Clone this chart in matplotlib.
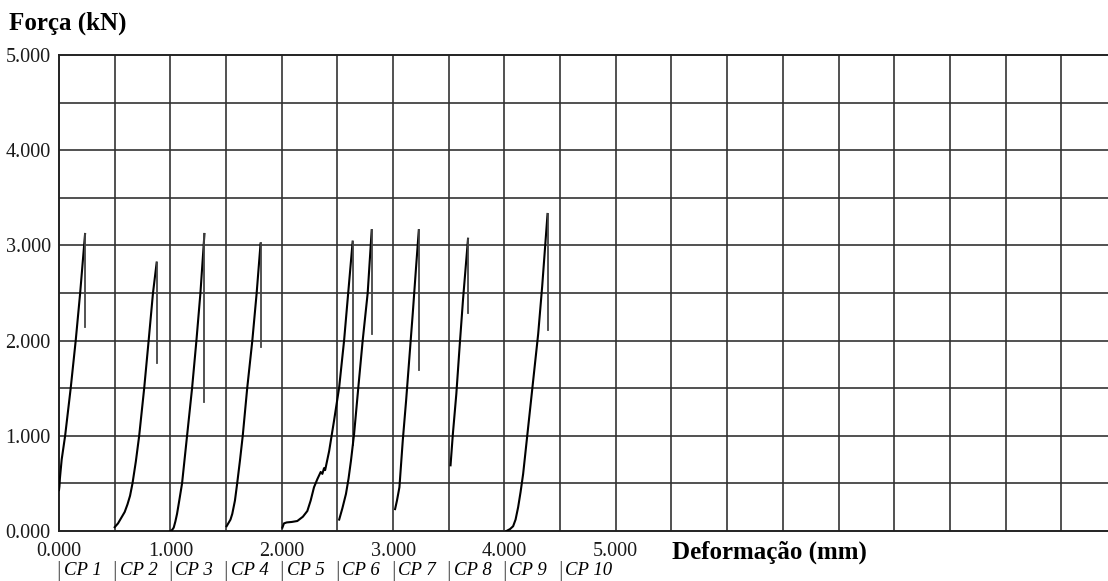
import matplotlib
matplotlib.use("Agg")
import matplotlib.pyplot as plt
import numpy as np

# ---- data (x in mm, y in kN) ----
cp1_x = [0.0, 0.004, 0.008, 0.024, 0.055, 0.105, 0.15, 0.19, 0.234, 0.234]
cp1_y = [0.43, 0.47, 0.55, 0.75, 1.0, 1.5, 2.0, 2.5, 3.12, 2.14]
cp2_x = [0.5, 0.53, 0.56, 0.59, 0.615, 0.638, 0.66, 0.69, 0.72, 0.765, 0.805, 0.844, 0.877, 0.877]
cp2_y = [0.04, 0.08, 0.14, 0.2, 0.28, 0.37, 0.5, 0.73, 1.0, 1.5, 2.0, 2.5, 2.82, 1.76]
cp3_x = [1.0, 1.015, 1.03, 1.045, 1.06, 1.08, 1.105, 1.15, 1.195, 1.234, 1.27, 1.306, 1.306]
cp3_y = [0.0, 0.01, 0.035, 0.1, 0.18, 0.32, 0.5, 1.0, 1.5, 2.0, 2.5, 3.12, 1.35]
cp4_x = [1.505, 1.52, 1.54, 1.556, 1.58, 1.60, 1.625, 1.65, 1.69, 1.736, 1.775, 1.81, 1.81]
cp4_y = [0.05, 0.08, 0.12, 0.18, 0.32, 0.5, 0.74, 1.0, 1.5, 2.0, 2.5, 3.02, 1.93]
cp5_x = [2.006, 2.02, 2.045, 2.09, 2.14, 2.19, 2.23, 2.26, 2.29, 2.32, 2.35, 2.365, 2.38, 2.39,
         2.426, 2.47, 2.516, 2.56, 2.597, 2.637, 2.637]
cp5_y = [0.035, 0.08, 0.09, 0.095, 0.105, 0.15, 0.21, 0.32, 0.46, 0.545, 0.62, 0.6, 0.66, 0.64,
         0.84, 1.16, 1.51, 2.0, 2.5, 3.04, 0.9]
cp6_x = [2.516, 2.545, 2.577, 2.6, 2.622, 2.65, 2.688, 2.727, 2.772, 2.808, 2.808]
cp6_y = [0.12, 0.24, 0.39, 0.55, 0.74, 1.02, 1.51, 2.0, 2.5, 3.16, 2.07]
cp7_x = [3.018, 3.035, 3.057, 3.087, 3.117, 3.147, 3.177, 3.207, 3.231, 3.231]
cp7_y = [0.23, 0.32, 0.46, 0.95, 1.37, 1.83, 2.29, 2.78, 3.16, 1.69]
cp8_x = [3.516, 3.537, 3.568, 3.597, 3.628, 3.673, 3.673]
cp8_y = [0.69, 1.02, 1.44, 1.93, 2.43, 3.07, 2.29]
cp9_x = [4.018, 4.05, 4.078, 4.1, 4.123, 4.145, 4.168, 4.213, 4.258, 4.303, 4.339, 4.387, 4.387]
cp9_y = [0.0, 0.02, 0.05, 0.12, 0.25, 0.41, 0.6, 1.09, 1.58, 2.07, 2.57, 3.33, 2.11]

series_x = [cp1_x, cp2_x, cp3_x, cp4_x, cp5_x, cp6_x, cp7_x, cp8_x, cp9_x]
series_y = [cp1_y, cp2_y, cp3_y, cp4_y, cp5_y, cp6_y, cp7_y, cp8_y, cp9_y]

cp_labels = ["CP 1", "CP 2", "CP 3", "CP 4", "CP 5", "CP 6", "CP 7", "CP 8", "CP 9", "CP 10"]
cp_positions = [0.0, 0.5, 1.0, 1.5, 2.0, 2.5, 3.0, 3.5, 4.0, 4.5]
x_tick_vals = [0, 1, 2, 3, 4, 5]
x_tick_labels = ["0.000", "1.000", "2.000", "3.000", "4.000", "5.000"]
y_tick_vals = [0, 1, 2, 3, 4, 5]
y_tick_labels = ["0.000", "1.000", "2.000", "3.000", "4.000", "5.000"]

plt.rcParams['font.family'] = ['Liberation Serif', 'DejaVu Serif']

W, H = 1108, 581
fig = plt.figure(figsize=(W / 100, H / 100), dpi=100)
left = 59 / W
bottom = (H - 531) / H
top = (H - 55) / H
ax = fig.add_axes([left, bottom, 1.0 - left, top - bottom])

ax.set_xlim(0, 9.42)
ax.set_ylim(0, 5)

grid_c = '#333333'
for gx in np.arange(0.5, 9.01, 0.5):
    ax.axvline(gx, color=grid_c, lw=1.2, zorder=1)
for gy in np.arange(0.5, 4.51, 0.5):
    ax.axhline(gy, color=grid_c, lw=1.2, zorder=1)

for sx, sy in zip(series_x, series_y):
    ax.plot(sx[:-1], sy[:-1], color='black', lw=1.5, zorder=3, solid_joinstyle='round')
    ax.plot(sx[-2:], sy[-2:], color='#444444', lw=1.3, zorder=3)

for s in ['left', 'bottom', 'top']:
    ax.spines[s].set_color('#222222')
    ax.spines[s].set_linewidth(1.4)
ax.spines['right'].set_visible(False)

ax.set_xticks(x_tick_vals)
ax.set_xticklabels(x_tick_labels, fontsize=14.5)
ax.set_yticks(y_tick_vals)
ax.set_yticklabels(y_tick_labels, fontsize=14.5)
ax.tick_params(axis='both', length=0, colors='#1a1a1a')
ax.tick_params(axis='x', pad=8)
ax.tick_params(axis='y', pad=6)

fig.text(9 / W, 1 - 30 / H, "Força (kN)", fontsize=18, fontweight='bold',
         ha='left', va='baseline')
ax.text(5.505, -0.22, "Deformação (mm)", fontsize=18, fontweight='bold',
        ha='left', va='center', transform=ax.transData, clip_on=False)

for pos, lab in zip(cp_positions, cp_labels):
    ax.text(pos, -0.43, "|", fontsize=17, ha='center', va='center',
            color='#555555', clip_on=False)
    ax.text(pos + 0.045, -0.42, lab, fontsize=13.5, style='italic',
            ha='left', va='center', clip_on=False)

fig.savefig("out.png", dpi=100)
